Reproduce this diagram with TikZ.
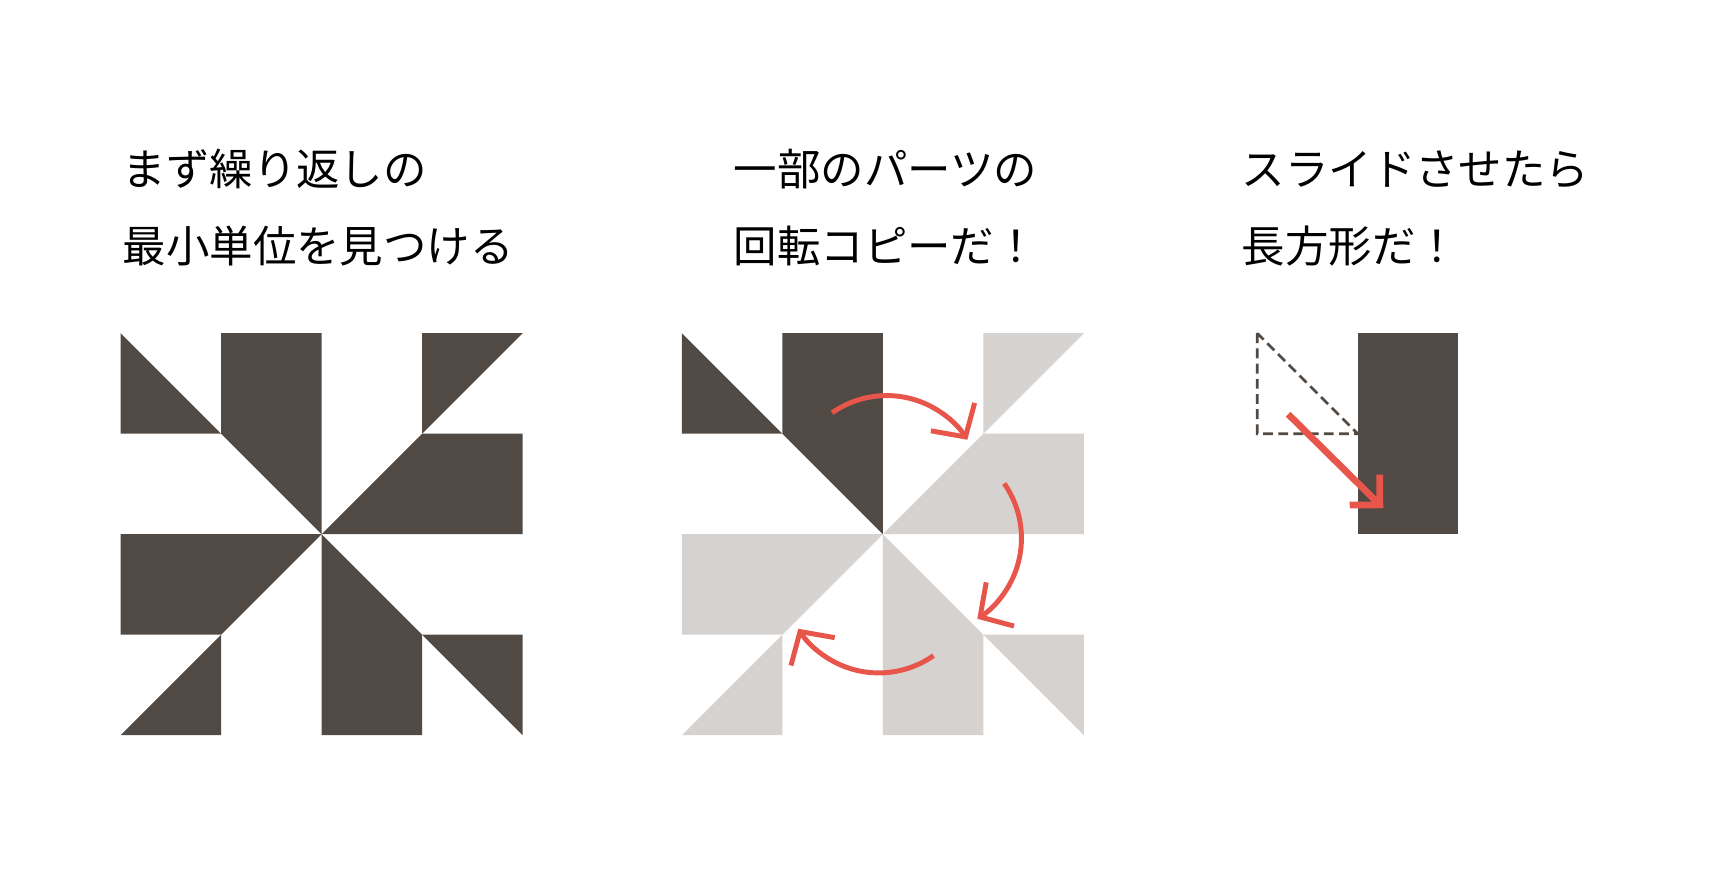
\documentclass[tikz,border=0pt]{standalone}
\usepackage{fontspec}
\newfontfamily\jpfont{Noto Sans CJK JP}
\usetikzlibrary{arrows.meta}
\definecolor{tileDark}{HTML}{514944}
\definecolor{tileLight}{HTML}{D5D2CF}
\definecolor{arrowRed}{HTML}{E8554A}

\begin{document}
\begin{tikzpicture}[
  darkpart/.style={fill=tileDark},
  lightpart/.style={fill=tileLight},
  caption/.style={anchor=base west, inner sep=0pt, font=\jpfont\fontsize{12.3}{14}\selectfont},
  turnarrow/.style={draw=arrowRed, line width=1.4pt, -{Straight Barb[angle=95:3.5mm]}},
  slidearrow/.style={draw=arrowRed, line width=1.9pt, -{Straight Barb[angle=90:3mm]}},
  ghost/.style={draw=tileDark, line width=0.75pt, dash pattern=on 2.8pt off 1.5pt}]
\useasboundingbox (0,0) rectangle (17.055,-8.816);

% captions
\node[caption] (capA1) at (1.214,-1.846) {まず繰り返しの};
\node[caption] (capA2) at (1.214,-2.612) {最小単位を見つける};
\node[caption] (capB1) at (7.294,-1.846) {一部のパーツの};
\node[caption] (capB2) at (7.294,-2.612) {回転コピーだ！};
\node[caption] (capC1) at (12.348,-1.846) {スライドさせたら};
\node[caption] (capC2) at (12.348,-2.612) {長方形だ！};

% whole pattern
\begin{scope}[shift={(1.201,-3.316)}]
\fill[darkpart] (0,0) -- (0,-1) -- (1,-1) -- cycle;
\fill[darkpart] (1,0) -- (2,0) -- (2,-2) -- (1,-1) -- cycle;
\fill[darkpart] (3,0) -- (4,0) -- (3,-1) -- cycle;
\fill[darkpart] (3,-1) -- (4,-1) -- (4,-2) -- (2,-2) -- cycle;
\fill[darkpart] (0,-2) -- (2,-2) -- (1,-3) -- (0,-3) -- cycle;
\fill[darkpart] (0,-4) -- (1,-3) -- (1,-4) -- cycle;
\fill[darkpart] (2,-2) -- (3,-3) -- (3,-4) -- (2,-4) -- cycle;
\fill[darkpart] (3,-3) -- (4,-3) -- (4,-4) -- cycle;
\end{scope}

% one part and its turned copies
\begin{scope}[shift={(6.784,-3.316)}]
\fill[darkpart] (0,0) -- (0,-1) -- (1,-1) -- cycle;
\fill[darkpart] (1,0) -- (2,0) -- (2,-2) -- (1,-1) -- cycle;
\fill[lightpart] (3,0) -- (4,0) -- (3,-1) -- cycle;
\fill[lightpart] (3,-1) -- (4,-1) -- (4,-2) -- (2,-2) -- cycle;
\fill[lightpart] (0,-2) -- (2,-2) -- (1,-3) -- (0,-3) -- cycle;
\fill[lightpart] (0,-4) -- (1,-3) -- (1,-4) -- cycle;
\fill[lightpart] (2,-2) -- (3,-3) -- (3,-4) -- (2,-4) -- cycle;
\fill[lightpart] (3,-3) -- (4,-3) -- (4,-4) -- cycle;
\draw[turnarrow] (1.495,-0.792) arc[start angle=125, end angle=32.5, radius=0.95];
\draw[turnarrow] (3.208,-1.495) arc[start angle=35, end angle=-57.5, radius=0.95];
\draw[turnarrow] (2.505,-3.208) arc[start angle=-55, end angle=-147.5, radius=0.95];
\end{scope}

% slide into a rectangle
\begin{scope}[shift={(12.510,-3.316)}]
\draw[ghost] (0,0) -- (0,-1) -- (1,-1) -- cycle;
\fill[darkpart] (1,0) rectangle (2,-2);
\coordinate (slideA) at (0.308,-0.806);
\coordinate (slideB) at (1.254,-1.741);
\draw[slidearrow] (slideA) -- (slideB);
\end{scope}
\end{tikzpicture}
\end{document}
